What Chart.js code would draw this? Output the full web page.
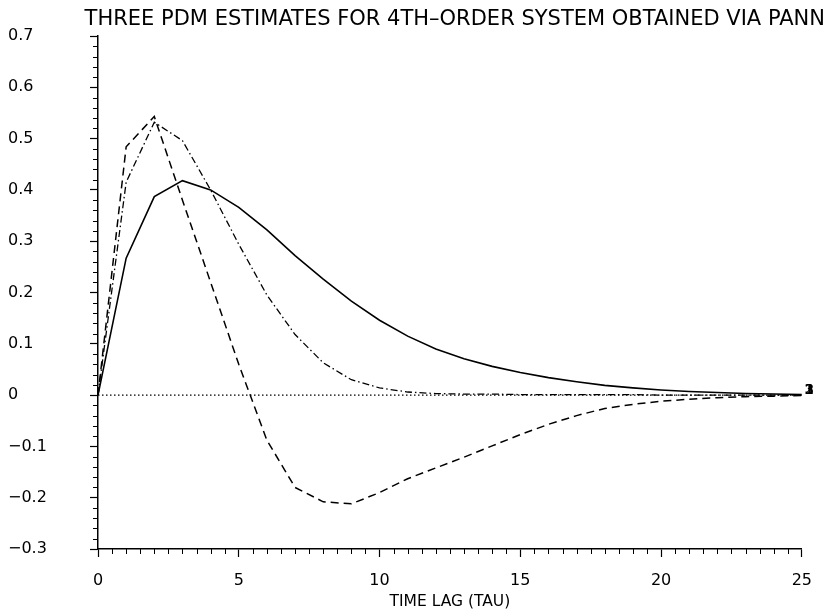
<!DOCTYPE html>
<html>
<head>
<meta charset="utf-8">
<script src="https://cdn.jsdelivr.net/npm/chart.js@4"></script>
<style>
    html, body { margin: 0; padding: 0; background: #fff; }
</style>
</head>
<body>
<canvas id="pdm-chart" width="826" height="612"></canvas>
<script>
const lags = [0, 1, 2, 3, 4, 5, 6, 7, 8, 9, 10, 11, 12, 13, 14, 15, 16, 17, 18, 19, 20, 21, 22, 23, 24, 25];
const pdm1 = [0, 0.267, 0.387, 0.418, 0.400, 0.366, 0.322, 0.272, 0.226, 0.183, 0.146, 0.115, 0.090, 0.071, 0.056, 0.044, 0.034, 0.026, 0.019, 0.014, 0.010, 0.007, 0.005, 0.003, 0.002, 0.001];
const pdm2 = [0, 0.484, 0.543, 0.380, 0.220, 0.060, -0.088, -0.180, -0.208, -0.212, -0.190, -0.163, -0.142, -0.121, -0.099, -0.077, -0.057, -0.040, -0.026, -0.018, -0.012, -0.008, -0.005, -0.003, -0.002, -0.001];
const pdm3 = [0, 0.415, 0.532, 0.496, 0.400, 0.294, 0.195, 0.118, 0.063, 0.030, 0.014, 0.006, 0.003, 0.002, 0.002, 0.001, 0.001, 0.001, 0.001, 0.001, 0, 0, 0, 0, 0, 0];
const curveLabels = ['1', '2', '3'];

const titleText = 'THREE PDM ESTIMATES FOR 4TH\u2013ORDER SYSTEM OBTAINED VIA PANN';
const font = 'DejaVu Sans';

function points(values) {
    return lags.map((t, i) => ({ x: t, y: values[i] }));
}

// title, minor ticks and the curve numbers at the right end
const extras = {
    id: 'extras',
    afterDraw(chart) {
        const { ctx, scales: { x, y } } = chart;
        ctx.save();
        ctx.strokeStyle = '#000';
        ctx.lineWidth = 1;
        ctx.beginPath();
        for (let i = 1; i < 50; i++) {
            if (i % 10 === 0) continue;
            const px = Math.round(x.getPixelForValue(i * 0.5)) + 0.5;
            ctx.moveTo(px, y.bottom);
            ctx.lineTo(px, y.bottom + 5);
        }
        for (let j = 1; j < 50; j++) {
            if (j % 5 === 0) continue;
            const py = Math.round(y.getPixelForValue(-0.3 + j * 0.02)) + 0.5;
            ctx.moveTo(x.left - 5, py);
            ctx.lineTo(x.left, py);
        }
        ctx.stroke();

        ctx.fillStyle = '#000';
        ctx.font = `21px "${font}"`;
        ctx.textAlign = 'right';
        ctx.textBaseline = 'middle';
        ctx.fillText(titleText, 825, 20);

        ctx.font = 'bold 13px "DejaVu Serif"';
        ctx.textAlign = 'left';
        const lx = x.getPixelForValue(25) + 3;
        const ly = y.getPixelForValue(0) - 4;
        curveLabels.forEach(l => ctx.fillText(l, lx, ly));
        ctx.restore();
    }
};

const ctx = document.getElementById('pdm-chart').getContext('2d');
new Chart(ctx, {
    type: 'line',
    data: {
        datasets: [
            {
                data: lags.map(t => ({ x: t, y: 0 })),
                borderColor: '#000',
                borderWidth: 1.2,
                borderDash: [1.5, 2.5],
                pointRadius: 0
            },
            {
                data: points(pdm1),
                borderColor: '#000',
                borderWidth: 1.6,
                pointRadius: 0
            },
            {
                data: points(pdm2),
                borderColor: '#000',
                borderWidth: 1.5,
                borderDash: [8, 5],
                pointRadius: 0
            },
            {
                data: points(pdm3),
                borderColor: '#000',
                borderWidth: 1.3,
                borderDash: [7, 3, 1.5, 3],
                pointRadius: 0
            }
        ]
    },
    options: {
        responsive: false,
        animation: false,
        devicePixelRatio: 1,
        layout: { padding: { left: 8, right: 22, top: 36, bottom: 0 } },
        elements: { line: { tension: 0 } },
        plugins: {
            legend: { display: false },
            tooltip: { enabled: false }
        },
        scales: {
            x: {
                type: 'linear',
                min: 0,
                max: 25,
                ticks: {
                    stepSize: 5,
                    color: '#000',
                    padding: 14,
                    font: { family: font, size: 16 }
                },
                grid: { drawOnChartArea: false, tickLength: 8, tickColor: '#000', tickWidth: 1.2 },
                border: { color: '#000', width: 1.5 },
                title: {
                    display: true,
                    text: 'TIME LAG (TAU)',
                    color: '#000',
                    font: { family: font, size: 15.5 },
                    padding: { top: 0, bottom: 1 }
                },
                afterFit: s => { s.height = 63; }
            },
            y: {
                min: -0.3,
                max: 0.7,
                ticks: {
                    stepSize: 0.1,
                    crossAlign: 'far',
                    color: '#000',
                    font: { family: font, size: 16 },
                    callback: v => {
                        const r = Math.round(v * 10) / 10;
                        if (r === 0) return '0';
                        return (r < 0 ? '\u2212' : '') + Math.abs(r).toFixed(1);
                    }
                },
                grid: { drawOnChartArea: false, tickLength: 8, tickColor: '#000', tickWidth: 1.2 },
                border: { color: '#000', width: 1.5 },
                afterFit: s => { s.width = 90; }
            }
        }
    },
    plugins: [extras]
});
</script>
</body>
</html>
